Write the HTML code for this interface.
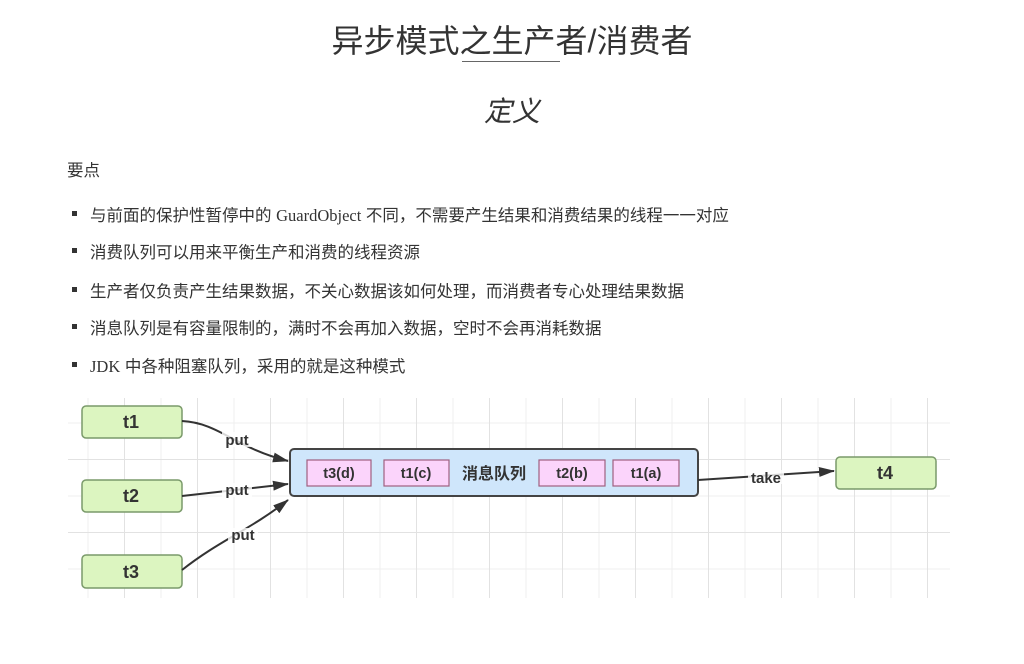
<!DOCTYPE html>
<html><head><meta charset="utf-8"><style>
body{margin:0;width:1024px;height:664px;background:#fff;position:relative;overflow:hidden;font-family:"Liberation Sans","Noto Sans CJK SC",sans-serif;color:#333}
.t{position:absolute;white-space:nowrap}
.b{position:absolute;left:90px;font-size:16.5px;color:#333;white-space:nowrap}
.d{position:absolute;left:72px;width:5px;height:5px;background:#333}
.grid{position:absolute;left:68px;top:398px;width:882px;height:200px;
background-image:linear-gradient(#e2e2e2 1px,transparent 1px),linear-gradient(90deg,#e2e2e2 1px,transparent 1px),linear-gradient(#efefef 1px,transparent 1px),linear-gradient(90deg,#efefef 1px,transparent 1px);
background-size:73px 73px,73px 73px,36.5px 36.5px,36.5px 36.5px;background-position:0 -12px,-17px 0,0 -12px,-17px 0}
</style></head><body>
<div class="t" style="left:0;width:1024px;text-align:center;top:16px;font-size:32px;color:#333">异步模式之生产者/消费者</div>
<div style="position:absolute;left:462px;top:61px;width:98px;height:1px;background:#666"></div>
<div class="t" style="left:0;width:1024px;text-align:center;top:90px;font-size:28px;font-style:italic;color:#333">定义</div>
<div class="t" style="left:67px;top:157px;font-size:16.5px">要点</div>
<div class="d" style="top:211px"></div><div class="b" style="top:202px">与前面的保护性暂停中的 <span style="font-family:'Liberation Serif',serif">GuardObject</span> 不同，不需要产生结果和消费结果的线程一一对应</div>
<div class="d" style="top:248px"></div><div class="b" style="top:239px">消费队列可以用来平衡生产和消费的线程资源</div>
<div class="d" style="top:287px"></div><div class="b" style="top:278px">生产者仅负责产生结果数据，不关心数据该如何处理，而消费者专心处理结果数据</div>
<div class="d" style="top:324px"></div><div class="b" style="top:315px">消息队列是有容量限制的，满时不会再加入数据，空时不会再消耗数据</div>
<div class="d" style="top:362px"></div><div class="b" style="top:353px"><span style="font-family:'Liberation Serif',serif">JDK</span> 中各种阻塞队列，采用的就是这种模式</div>
<div class="grid"></div>
<svg style="position:absolute;left:0;top:0" width="1024" height="664" font-family="Liberation Sans, Noto Sans CJK SC, sans-serif" font-weight="bold">
<defs><marker id="a" markerWidth="16" markerHeight="10" refX="15" refY="5" orient="auto" markerUnits="userSpaceOnUse" viewBox="0 0 16 10"><path d="M0,0 L16,5 L0,10 Z" fill="#333"/></marker></defs>
<g fill="#dcf5c0" stroke="#7a9a6a" stroke-width="1.5">
<rect x="82" y="406" width="100" height="32" rx="4"/>
<rect x="82" y="480" width="100" height="32" rx="4"/>
<rect x="82" y="555" width="100" height="33" rx="4"/>
<rect x="836" y="457" width="100" height="32" rx="4"/>
</g>
<g font-size="18" fill="#333" text-anchor="middle">
<text x="131" y="428">t1</text><text x="131" y="502">t2</text><text x="131" y="578">t3</text><text x="885" y="479">t4</text>
</g>
<rect x="290" y="449" width="408" height="47" rx="4" fill="#cfe6fb" stroke="#444" stroke-width="2"/>
<g fill="#fbd4fb" stroke="#a06080" stroke-width="1.2">
<rect x="307" y="460" width="64" height="26"/><rect x="384" y="460" width="65" height="26"/>
<rect x="539" y="460" width="66" height="26"/><rect x="613" y="460" width="66" height="26"/>
</g>
<g font-size="14.5" fill="#333" text-anchor="middle">
<text x="339" y="478">t3(d)</text><text x="416" y="478">t1(c)</text><text x="572" y="478">t2(b)</text><text x="646" y="478">t1(a)</text>
<text x="494" y="479" font-size="16">消息队列</text>
</g>
<g fill="none" stroke="#333" stroke-width="2" marker-end="url(#a)">
<path d="M182,421 C220,423 235,448 288,461"/>
<path d="M182,496 L288,484"/>
<path d="M182,570 C220,540 250,530 288,500"/>
<path d="M698,480 L834,471"/>
</g>
<g font-size="15" fill="#333" text-anchor="middle">
<rect x="222" y="432" width="30" height="15" fill="#fff" opacity="0.8"/><text x="237" y="445">put</text>
<rect x="222" y="483" width="30" height="14" fill="#fff" opacity="0.8"/><text x="237" y="495">put</text>
<rect x="228" y="528" width="30" height="14" fill="#fff" opacity="0.8"/><text x="243" y="540">put</text>
<rect x="748" y="470" width="36" height="14" fill="#fff" opacity="0.8"/><text x="766" y="483">take</text>
</g>
</svg>
</body></html>
